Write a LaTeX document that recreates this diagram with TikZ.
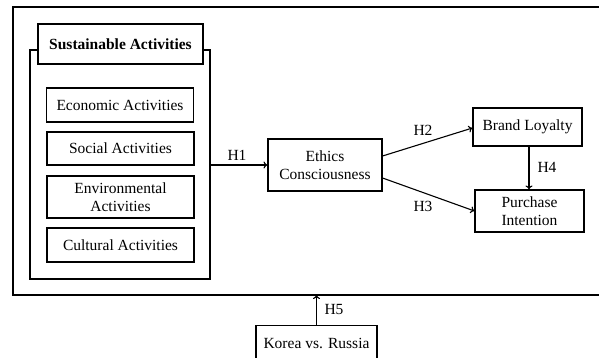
\documentclass[tikz,border=0pt]{standalone}
\usepackage{fontspec}
\setmainfont{Liberation Serif}
\usetikzlibrary{arrows.meta}
\begin{document}
\begin{tikzpicture}[x=1pt,y=-1pt,
  every node/.style={font=\fontsize{15.5}{18.5}\selectfont},
  box/.style={draw, line width=1.1pt, inner sep=0pt, align=center},
  conn/.style={line width=1.1pt, -{To[length=4pt,width=7pt]}},
  lbl/.style={inner sep=0pt}]
\useasboundingbox (0,0) rectangle (599,358);
\clip (0,0) rectangle (599,358);
% outer frame
\draw[line width=1.1pt] (13,7) rectangle (605,295);
% sustainable group frame
\draw[line width=1.1pt] (38,50) -- (30,50) -- (30,279) -- (210,279) -- (210,50) -- (203,50);
\node[box, minimum width=165pt, minimum height=40pt, font=\fontsize{15.5}{18.5}\selectfont\bfseries] (sa) at (120.5,44) {Sustainable Activities};
\node[box, minimum width=147pt, minimum height=34pt] (eco) at (120,105) {Economic Activities};
\node[box, minimum width=147pt, minimum height=33pt] (soc) at (120.5,148.5) {Social Activities};
\node[box, minimum width=147pt, minimum height=42pt] (env) at (120.5,197) {Environmental\\Activities};
\node[box, minimum width=147pt, minimum height=34pt] (cul) at (120.5,245) {Cultural Activities};
\coordinate (grp) at (210,165);
\node[box, minimum width=114pt, minimum height=52pt] (eth) at (325,165) {Ethics\\Consciousness};
\node[box, minimum width=109pt, minimum height=38pt] (bl) at (527.5,127) {Brand Loyalty};
\node[box, minimum width=109pt, minimum height=42pt] (pi) at (529.5,211) {Purchase\\Intention};
\node[box, minimum width=121pt, minimum height=40pt, anchor=north] (kr) at (316.5,325) {};
\node at (316.5,343) {Korea vs. Russia};
\coordinate (fb) at (316.5,295);
\draw[conn] (grp) -- (eth.west);
\draw[conn] (eth.east |- 0,156) -- (bl.west |- 0,128);
\draw[conn] (eth.east |- 0,178) -- (pi.west |- 0,211);
\draw[conn] (bl.south -| 529,0) -- (pi.north -| 529,0);
\draw[conn] (kr.north) -- (fb);
\node[lbl] at (237,155) {H1};
\node[lbl] at (423,130) {H2};
\node[lbl] at (423,206) {H3};
\node[lbl] at (547,167) {H4};
\node[lbl] at (334,309) {H5};
\end{tikzpicture}
\end{document}
